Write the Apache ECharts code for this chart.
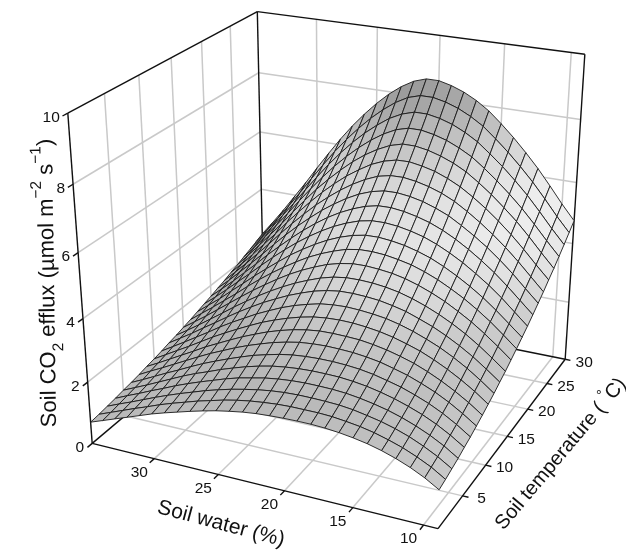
<!DOCTYPE html>
<html><head><meta charset="utf-8">
<style>html,body{margin:0;padding:0;background:#fff}#c{width:626px;height:550px}</style>
<script src="https://cdn.jsdelivr.net/npm/echarts@6/dist/echarts.min.js"></script>
</head><body><div id="c"></div>
<script>
const waterLevels=[35,34,33,32,31,30,29,28,27,26,25,24,23,22,21,20,19,18,17,16,15,14,13,12,11,10,9];
const tempLevels=[0,1.25,2.5,3.75,5,6.25,7.5,8.75,10,11.25,12.5,13.75,15,16.25,17.5,18.75,20,21.25,22.5,23.75,25,26.25,27.5,28.75,30];
const fluxRows=[
[.70,.85,1.00,1.15,1.30,1.45,1.58,1.70,1.82,1.93,2.03,2.11,2.18,2.23,2.26,2.28,2.29,2.29,2.27,2.23,2.17,2.09,1.98,1.84,1.67,1.46,1.20],
[.73,.89,1.05,1.21,1.36,1.52,1.66,1.79,1.92,2.03,2.14,2.23,2.30,2.35,2.39,2.41,2.41,2.41,2.39,2.34,2.28,2.19,2.07,1.93,1.75,1.54,1.27],
[.77,.94,1.10,1.27,1.44,1.60,1.75,1.89,2.03,2.15,2.26,2.35,2.43,2.49,2.53,2.55,2.55,2.54,2.52,2.47,2.39,2.30,2.18,2.03,1.84,1.62,1.35],
[.81,.99,1.16,1.34,1.51,1.69,1.85,2.00,2.14,2.28,2.40,2.49,2.58,2.64,2.68,2.70,2.70,2.69,2.66,2.60,2.52,2.42,2.29,2.13,1.94,1.71,1.43],
[.86,1.04,1.22,1.41,1.60,1.79,1.96,2.11,2.27,2.41,2.54,2.65,2.74,2.80,2.84,2.86,2.86,2.85,2.81,2.75,2.66,2.55,2.41,2.25,2.05,1.81,1.53],
[.90,1.09,1.29,1.49,1.68,1.88,2.07,2.24,2.40,2.55,2.69,2.80,2.90,2.97,3.01,3.03,3.03,3.01,2.97,2.90,2.80,2.69,2.54,2.37,2.16,1.91,1.62],
[.95,1.16,1.36,1.57,1.78,1.99,2.19,2.37,2.55,2.71,2.85,2.98,3.08,3.16,3.20,3.22,3.21,3.19,3.14,3.07,2.96,2.84,2.68,2.50,2.28,2.02,1.73],
[1.01,1.22,1.44,1.66,1.88,2.11,2.31,2.51,2.70,2.87,3.03,3.16,3.27,3.35,3.40,3.41,3.40,3.38,3.32,3.24,3.13,3.00,2.83,2.63,2.40,2.14,1.84],
[1.06,1.29,1.52,1.75,1.99,2.23,2.45,2.66,2.86,3.05,3.21,3.35,3.47,3.56,3.61,3.63,3.62,3.58,3.52,3.43,3.31,3.17,2.99,2.78,2.54,2.27,1.96],
[1.12,1.36,1.60,1.85,2.10,2.36,2.60,2.82,3.04,3.23,3.41,3.56,3.68,3.78,3.83,3.85,3.83,3.79,3.73,3.63,3.50,3.34,3.16,2.94,2.69,2.40,2.08],
[1.19,1.44,1.69,1.96,2.22,2.49,2.75,2.99,3.22,3.42,3.61,3.77,3.91,4.01,4.07,4.08,4.06,4.02,3.94,3.84,3.69,3.53,3.33,3.10,2.84,2.54,2.22],
[1.25,1.51,1.78,2.06,2.34,2.63,2.90,3.16,3.40,3.62,3.82,3.99,4.14,4.25,4.31,4.32,4.30,4.25,4.17,4.05,3.90,3.72,3.51,3.27,2.99,2.68,2.35],
[1.32,1.60,1.88,2.18,2.48,2.78,3.07,3.34,3.60,3.84,4.05,4.23,4.39,4.50,4.57,4.58,4.55,4.50,4.41,4.28,4.12,3.93,3.70,3.45,3.16,2.84,2.50],
[1.39,1.69,1.99,2.30,2.61,2.94,3.25,3.54,3.81,4.06,4.29,4.48,4.64,4.77,4.84,4.85,4.82,4.75,4.66,4.52,4.35,4.14,3.91,3.64,3.34,3.00,2.65],
[1.47,1.78,2.09,2.43,2.76,3.10,3.42,3.73,4.03,4.29,4.53,4.74,4.91,5.04,5.12,5.13,5.09,5.02,4.91,4.77,4.58,4.36,4.11,3.83,3.51,3.16,2.81],
[1.55,1.87,2.21,2.56,2.91,3.27,3.62,3.95,4.26,4.54,4.79,5.01,5.19,5.33,5.41,5.42,5.38,5.30,5.19,5.03,4.83,4.60,4.33,4.04,3.71,3.34,2.97],
[1.63,1.97,2.32,2.69,3.06,3.45,3.81,4.16,4.49,4.79,5.06,5.29,5.48,5.63,5.72,5.73,5.68,5.59,5.47,5.30,5.09,4.84,4.56,4.25,3.90,3.52,3.14],
[1.72,2.07,2.45,2.83,3.22,3.63,4.02,4.39,4.73,5.05,5.33,5.58,5.79,5.94,6.03,6.04,5.99,5.90,5.76,5.59,5.35,5.09,4.80,4.47,4.11,3.71,3.32],
[1.80,2.18,2.57,2.98,3.39,3.82,4.23,4.62,4.99,5.32,5.62,5.88,6.10,6.27,6.36,6.37,6.31,6.21,6.07,5.88,5.63,5.35,5.04,4.70,4.32,3.91,3.50],
[1.90,2.29,2.70,3.13,3.56,4.02,4.45,4.86,5.25,5.60,5.92,6.19,6.43,6.60,6.70,6.71,6.64,6.54,6.38,6.18,5.92,5.63,5.30,4.94,4.54,4.11,3.70],
[1.99,2.41,2.84,3.29,3.74,4.22,4.68,5.12,5.52,5.89,6.23,6.52,6.76,6.95,7.06,7.06,6.99,6.87,6.71,6.50,6.22,5.91,5.56,5.19,4.77,4.32,3.89],
[2.09,2.52,2.98,3.45,3.93,4.43,4.91,5.37,5.80,6.19,6.54,6.85,7.11,7.31,7.42,7.42,7.34,7.22,7.04,6.82,6.52,6.19,5.83,5.44,5.00,4.54,4.10],
[2.19,2.64,3.12,3.62,4.12,4.64,5.15,5.64,6.09,6.50,6.87,7.19,7.47,7.67,7.79,7.79,7.71,7.58,7.39,7.15,6.83,6.49,6.11,5.70,5.24,4.76,4.31],
[2.29,2.77,3.27,3.79,4.32,4.87,5.40,5.92,6.39,6.82,7.21,7.55,7.84,8.06,8.18,8.18,8.09,7.95,7.75,7.50,7.16,6.80,6.40,5.97,5.49,4.99,4.53],
[2.40,2.90,3.42,3.97,4.52,5.10,5.66,6.20,6.70,7.15,7.56,7.92,8.22,8.45,8.58,8.58,8.48,8.33,8.12,7.85,7.50,7.12,6.70,6.25,5.75,5.23,4.75]
];
const waterTicks=[30,25,20,15,10];
const tempTicks=[5,10,15,20,25];
const tempTickLabels=[5,10,15,20,25,30];
const fluxTicks=[2,4,6,8];
const fluxTickLabels=[0,2,4,6,8,10];
const waterRange=[35,9], tempRange=[0,30], fluxRange=[0,10];

// camera fitted from the box corners seen in the picture: [u,v,h,px,py]
const boxCorners=[[0,0,0,92,444],[1,0,0,438,528],[1,1,0,565,360],[0,1,0,264,298],[0,0,1,68,113],[0,1,1,257,12],[1,1,1,585,54]];
function fitCamera(pts){
  const n=11,A=Array.from({length:n},()=>new Array(n+1).fill(0));
  const add=(r,b)=>{for(let i=0;i<n;i++){for(let j=0;j<n;j++)A[i][j]+=r[i]*r[j];A[i][n]+=r[i]*b;}};
  pts.forEach(([u,v,h,x,y])=>{
    add([u,v,h,1,0,0,0,0,-x*u,-x*v,-x*h],x);
    add([0,0,0,0,u,v,h,1,-y*u,-y*v,-y*h],y);
  });
  for(let c=0;c<n;c++){
    let p=c;for(let r=c+1;r<n;r++)if(Math.abs(A[r][c])>Math.abs(A[p][c]))p=r;
    [A[c],A[p]]=[A[p],A[c]];
    for(let r=0;r<n;r++){if(r===c)continue;const f=A[r][c]/A[c][c];for(let k=c;k<=n;k++)A[r][k]-=f*A[c][k];}
  }
  return A.map((row,i)=>row[n]/row[i]);
}
const cam=fitCamera(boxCorners);
function project(w,t,z){
  const u=(w-waterRange[0])/(waterRange[1]-waterRange[0]),v=(t-tempRange[0])/(tempRange[1]-tempRange[0]),h=(z-fluxRange[0])/(fluxRange[1]-fluxRange[0]);
  const d=cam[8]*u+cam[9]*v+cam[10]*h+1;
  return [(cam[0]*u+cam[1]*v+cam[2]*h+cam[3])/d,(cam[4]*u+cam[5]*v+cam[6]*h+cam[7])/d];
}
const W0=waterRange[0],W1=waterRange[1],T0=tempRange[0],T1=tempRange[1],Z1=fluxRange[1];
const gridLines=[];
waterTicks.forEach(w=>{gridLines.push([w,T0,0,w,T1,0]);gridLines.push([w,T1,0,w,T1,Z1]);});
tempTicks.forEach(t=>{gridLines.push([W0,t,0,W1,t,0]);gridLines.push([W0,t,0,W0,t,Z1]);});
fluxTicks.forEach(z=>{gridLines.push([W0,T0,z,W0,T1,z]);gridLines.push([W0,T1,z,W1,T1,z]);});
const frameLines=[[W0,T0,0,W1,T0,0],[W1,T0,0,W1,T1,0],[W1,T1,0,W0,T1,0],[W0,T1,0,W0,T0,0],
 [W0,T0,0,W0,T0,Z1],[W0,T1,0,W0,T1,Z1],[W1,T1,0,W1,T1,Z1],[W0,T0,Z1,W0,T1,Z1],[W0,T1,Z1,W1,T1,Z1]];
const tk=.35;
waterTicks.forEach(w=>frameLines.push([w,T0,0,w,T0-tk*2,0]));
tempTicks.concat([T1]).forEach(t=>frameLines.push([W1,t,0,W1-tk*1.2,t,0]));
fluxTicks.concat([0,Z1]).forEach(z=>frameLines.push([W0,T0,z,W0,T0-tk*2,z]));

const shadeStops=[[0,.75],[1.5,.75],[2.5,.73],[3.2,.76],[4,.83],[5,.88],[6,.86],[7,.77],[8,.65],[8.7,.60]];
function shade(z,slope){
  let s=shadeStops[shadeStops.length-1][1];
  for(let i=1;i<shadeStops.length;i++){if(z<=shadeStops[i][0]){const a=shadeStops[i-1],b=shadeStops[i];s=a[1]+(b[1]-a[1])*(z-a[0])/(b[0]-a[0]);break;}}
  s+=slope*.13;
  const g=Math.round(Math.max(.5,Math.min(.93,s))*255);
  return 'rgb('+g+','+g+','+g+')';
}
const cells=[];
for(let r=tempLevels.length-2;r>=0;r--)for(let c=0;c<waterLevels.length-1;c++)cells.push([c,r]);

const lineRender=(color,width)=>(p,api)=>{
  const a=api.coord(project(api.value(0),api.value(1),api.value(2))),b=api.coord(project(api.value(3),api.value(4),api.value(5)));
  return {type:'line',shape:{x1:a[0],y1:a[1],x2:b[0],y2:b[1]},style:{stroke:color,lineWidth:width,fill:null}};
};
const FONT='"Liberation Sans",Arial,sans-serif';
function label(api,x,y,text,extra){const q=api.coord([x,y]);
  return Object.assign({type:'text',x:q[0],y:q[1],style:Object.assign({text:text,fontFamily:FONT,fontSize:15.5,fill:'#111',align:'center',verticalAlign:'middle'},extra&&extra.style||{})},extra&&extra.el||{});}
const labelItems=[].concat(
  waterTicks.map(w=>({k:'w',v:w})),tempTickLabels.map(t=>({k:'t',v:t})),fluxTickLabels.map(z=>({k:'z',v:z})),
  [{k:'tw'},{k:'tt'},{k:'tz'}]);
const rich={a:{fontFamily:FONT,fontSize:22,lineHeight:36,fill:'#111',verticalAlign:'middle'},
  s:{fontFamily:FONT,fontSize:15.5,lineHeight:18,fill:'#111',verticalAlign:'bottom'},
  u:{fontFamily:FONT,fontSize:15.5,lineHeight:18,fill:'#111',verticalAlign:'top'}};
const richT={a:{fontFamily:FONT,fontSize:20,lineHeight:28,fill:'#111',verticalAlign:'middle'},
  u:{fontFamily:FONT,fontSize:14,lineHeight:16,fill:'#111',verticalAlign:'top'}};
function renderLabel(p,api){
  const it=labelItems[p.dataIndex];
  if(it.k==='w'){const q=project(it.v,T0,0);return label(api,q[0]-15,q[1]+14,String(it.v));}
  if(it.k==='t'){const q=project(W1,it.v,0);return label(api,q[0]+19,q[1]+3,String(it.v));}
  if(it.k==='z'){const q=project(W0,T0,it.v);return label(api,q[0]-8,q[1]+4.5,String(it.v),{style:{align:'right'}});}
  if(it.k==='tw')return label(api,221,524,'Soil water (%)',{style:{fontSize:21},el:{rotation:-.26}});
  if(it.k==='tt')return label(api,561,454,'{a|Soil temperature ( }{u|°}{a|C)}',{style:{rich:richT},el:{rotation:.87}});
  return label(api,48,283,'{a|Soil CO}{s|2}{a| efflux (µmol m}{u|−2}{a| s}{u|−1}{a|)}',{style:{rich:rich},el:{rotation:1.585}});
}
function renderCell(p,api){
  const c=api.value(0),r=api.value(1);
  const pts=[[c,r],[c+1,r],[c+1,r+1],[c,r+1]].map(([i,j])=>api.coord(project(waterLevels[i],tempLevels[j],fluxRows[j][i])));
  const z=(fluxRows[r][c]+fluxRows[r][c+1]+fluxRows[r+1][c]+fluxRows[r+1][c+1])/4;
  const slope=((fluxRows[r][c]+fluxRows[r+1][c])-(fluxRows[r][c+1]+fluxRows[r+1][c+1]))/2/(waterLevels[c]-waterLevels[c+1]);
  return {type:'polygon',shape:{points:pts},style:{fill:shade(z,slope),stroke:'#1a1a1a',lineWidth:.9,lineJoin:'round'}};
}
const chart=echarts.init(document.getElementById('c'),null,{renderer:'canvas'});
chart.setOption({animation:false,backgroundColor:'#fff',
  grid:{left:0,right:0,top:0,bottom:0},
  xAxis:{type:'value',min:0,max:626,show:false},
  yAxis:{type:'value',min:0,max:550,inverse:true,show:false},
  series:[
   {type:'custom',name:'grid',data:gridLines,renderItem:lineRender('#c9c9c9',1.5),silent:true,clip:false},
   {type:'custom',name:'frame',data:frameLines,renderItem:lineRender('#111',1.4),silent:true,clip:false},
   {type:'custom',name:'Soil CO2 efflux',data:cells,renderItem:renderCell,silent:true,clip:false},
   {type:'custom',name:'labels',data:labelItems.map((d,i)=>[i]),renderItem:renderLabel,silent:true,clip:false}
  ]});
</script></body></html>
